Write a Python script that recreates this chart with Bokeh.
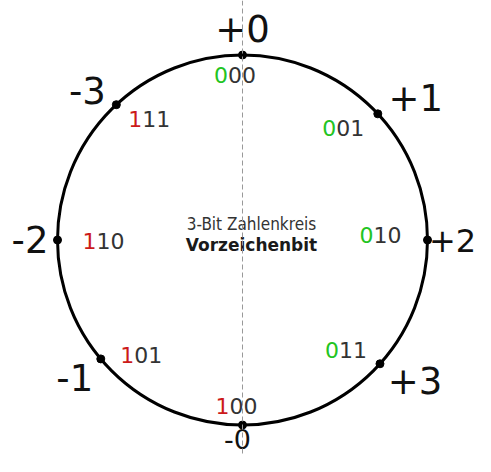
import numpy as np
from bokeh.plotting import figure
from bokeh.models import Range1d, Span, ColumnDataSource
from bokeh.core.properties import value
from bokeh.embed import file_html
from bokeh.resources import INLINE

# ---- data ----
angles_deg = [90, 43, 0, -42, -90, -140, 180, 133]
values = ["+0", "+1", "+2", "+3", "-0", "-1", "-2", "-3"]
sign_bits = ["0", "0", "0", "0", "1", "1", "1", "1"]
rest_bits = ["00", "01", "10", "11", "00", "01", "10", "11"]
title_line1 = "3-Bit Zahlenkreis"
title_line2 = "Vorzeichenbit"

# ---- layout (pixels) ----
W, H = 475, 456
PX = 185.0             # pixels per data unit (circle radius = 1)
CX, CY = 242.0, 239.5  # circle centre in figure pixels
def dx(px): return (px - CX) / PX
def dy(py): return (CY - py) / PX

SMALL_FS = 22
# big label: centre offsets from dot (screen px, +y downward), font size
big_off = [(0, -26.5), (38, -16), (25, 0), (35, 17), (-5, 13.5), (-26, 18.5), (-27.5, -0.5), (-29, -14.5)]
big_fs = [37, 37, 32, 37, 27, 37, 37, 37]
small_off = [(-7.5, 20), (-34.5, 14.5), (-47, -5), (-34, -13.5), (-6, -19), (40.5, -3.5), (46, 0.5), (33, 14.5)]

ang = np.radians(angles_deg)
xs = np.cos(ang)
ys = np.sin(ang)

big_x = [x + o[0] / PX for x, o in zip(xs, big_off)]
big_y = [y - o[1] / PX for y, o in zip(ys, big_off)]
big_size = [f"{s}px" for s in big_fs]
adv = 0.636 * SMALL_FS
split_x = [x + (o[0] - adv / 2) / PX for x, o in zip(xs, small_off)]
small_y = [y - o[1] / PX for y, o in zip(ys, small_off)]
sign_colors = ["#22c422" if b == "0" else "#cc1a1a" for b in sign_bits]

p = figure(width=W, height=H, output_backend="svg", toolbar_location=None,
           x_range=Range1d(dx(0), dx(W)), y_range=Range1d(dy(H), dy(0)),
           min_border=0, outline_line_color=None, background_fill_color="white",
           border_fill_color="white")
p.axis.visible = False
p.grid.visible = False

p.add_layout(Span(location=0, dimension="height", line_color="#999999",
                  line_width=1, line_dash="5 3"))

p.circle(x=[0], y=[0], radius=1, fill_color=None, line_color="black", line_width=3)

src = ColumnDataSource(dict(x=xs, y=ys, bx=big_x, by=big_y, bs=big_size, label=values,
                            sx=split_x, sy=small_y, sb=sign_bits, rb=rest_bits,
                            sc=sign_colors))
p.scatter("x", "y", source=src, size=8, color="black")

p.text("bx", "by", text="label", source=src, text_font=value("DejaVu Sans"),
       text_font_size="bs", text_color="#111111",
       text_align="center", text_baseline="alphabetic")
p.text("sx", "sy", text="sb", source=src, text_font=value("DejaVu Sans"),
       text_font_size=f"{SMALL_FS}px", text_color="sc",
       text_align="right", text_baseline="alphabetic")
p.text("sx", "sy", text="rb", source=src, text_font=value("DejaVu Sans"),
       text_font_size=f"{SMALL_FS}px", text_color="#333333",
       text_align="left", text_baseline="alphabetic")

p.text(x=[dx(251)], y=[dy(223)], text=[title_line1],
       text_font=value("DejaVu Sans Condensed"), text_font_size="17px",
       text_color="#333333", text_align="center", text_baseline="alphabetic")
p.text(x=[dx(251)], y=[dy(244)], text=[title_line2],
       text_font=value("DejaVu Sans"), text_font_style="bold", text_font_size="17px",
       text_color="#1a1a1a", text_align="center", text_baseline="alphabetic")

open("out.html", "w").write(file_html(p, INLINE))
